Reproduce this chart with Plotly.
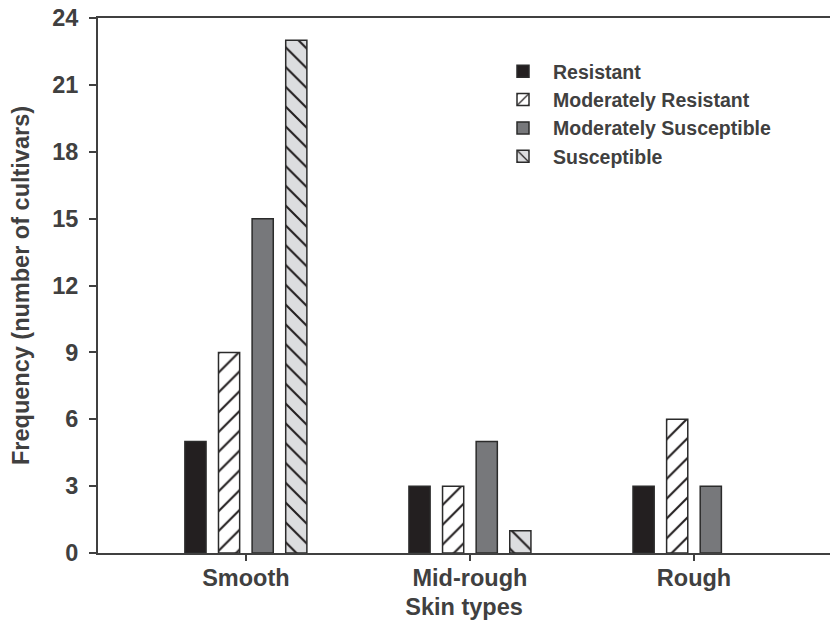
import plotly.graph_objects as go

categories = ["Smooth", "Mid-rough", "Rough"]
series_names = ["Resistant", "Moderately Resistant", "Moderately Susceptible", "Susceptible"]
resistant = [5, 3, 3]
mod_resistant = [9, 3, 6]
mod_susceptible = [15, 5, 3]
susceptible = [23, 1, None]
y_ticks = [0, 3, 6, 9, 12, 15, 18, 21, 24]

values = [resistant, mod_resistant, mod_susceptible, susceptible]
fills = ["#231f20", "#ffffff", "#77787b", "#dcdddf"]
shapes = ["", "/", "", "\\"]

fig = go.Figure()
for i, (name, vals, fill, shp) in enumerate(zip(series_names, values, fills, shapes)):
    marker = dict(color=fill, line=dict(color="#2b2b2b", width=1.5))
    if shp:
        marker["pattern"] = dict(shape=shp, fgcolor="#231f20", bgcolor=fill,
                                 size=14, solidity=0.15, fillmode="replace")
    fig.add_trace(go.Bar(x=categories, y=vals, name=name, marker=marker,
                         legendgroup=f"g{i}"))

txt = "#404040"
fnt = "Liberation Sans, Arial, sans-serif"
fig.update_layout(
    width=831, height=620,
    margin=dict(l=98, r=1, t=18, b=67),
    plot_bgcolor="white", paper_bgcolor="white",
    barmode="group", bargap=0.4, bargroupgap=0.37,
    font=dict(family=fnt, color=txt),
    showlegend=True,
    legend=dict(x=(493 - 98) / 732, y=1 - (52 - 18) / 535, xanchor="left", yanchor="top",
                font=dict(size=19.5, color=txt, family=fnt, weight="bold"),
                bgcolor="rgba(0,0,0,0)", tracegroupgap=0, itemwidth=50),
    xaxis=dict(
        range=[-0.66, 2.607], showline=True, linecolor=txt, linewidth=2, mirror=True,
        ticks="outside", ticklen=6, tickwidth=2, tickcolor=txt, automargin=False,
        ticklabelstandoff=-3,
        tickfont=dict(size=23.5, color=txt, weight="bold"),
        title=dict(text="Skin types", font=dict(size=23.5, color=txt, weight="bold"), standoff=19),
        showgrid=False, zeroline=False,
    ),
    yaxis=dict(
        range=[0, 24], tickvals=y_ticks, showline=True, linecolor=txt, linewidth=2,
        ticks="outside", ticklen=7, tickwidth=2, tickcolor=txt, ticklabelstandoff=6,
        automargin=False,
        tickfont=dict(size=23.5, color=txt, weight="bold"),
        title=dict(text="Frequency (number of cultivars)", font=dict(size=23.5, color=txt, weight="bold"), standoff=16),
        showgrid=False, zeroline=False,
    ),
)
fig.write_html("out.html")
